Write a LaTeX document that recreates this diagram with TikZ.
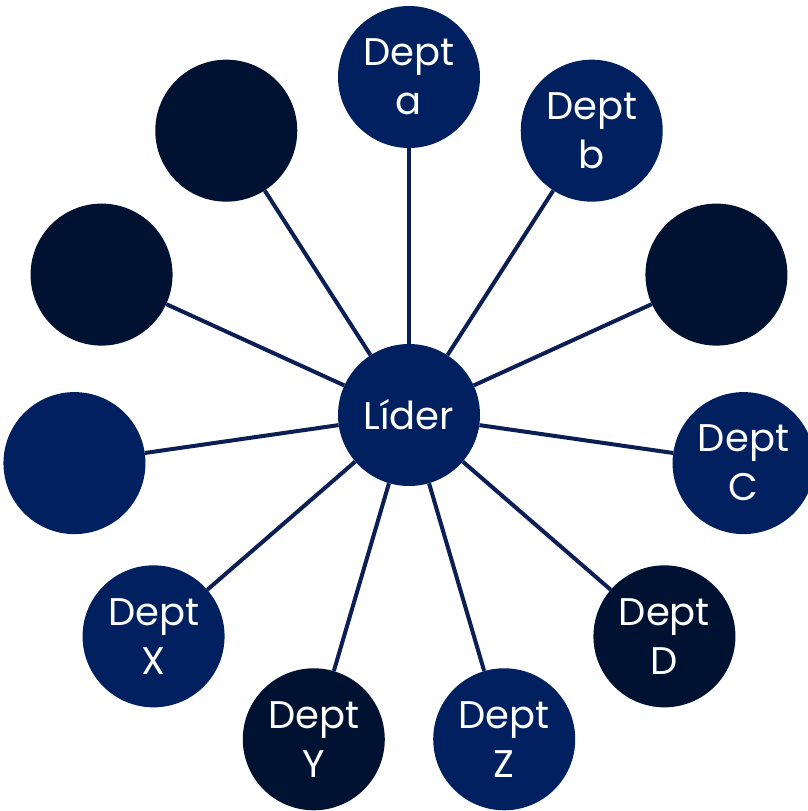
\documentclass[tikz,border=0pt]{standalone}
\usepackage{fontspec}
\setmainfont{Poppins}
\usetikzlibrary{trees}
\definecolor{deptblue}{HTML}{002060}
\definecolor{deptdark}{HTML}{001232}
\definecolor{spoke}{HTML}{0B1F55}

\begin{document}
\begin{tikzpicture}[%
  x=1pt,y=1pt,
  lider/.style={circle,fill=deptblue,text=white,minimum size=142pt,inner sep=0pt,
    font=\fontsize{38.5}{49}\selectfont,align=center},
  dept/.style={lider},
  deptdk/.style={lider,fill=deptdark},
  level 1/.style={level distance=338pt,sibling angle=32.7273},
  edge from parent/.style={draw=spoke,line width=4pt}]
    \useasboundingbox (0,0) rectangle (808,-811);
    % Leader
    \node[lider] (lider) at (409,-415) {Líder}
    [clockwise from=90]
    % Departments
    child {node[dept] (depta) {Dept\\a}}
    child {node[dept] (deptb) {Dept\\b}}
    child {node[deptdk] (emptyne) {}}
    child {node[dept] (deptc) {Dept\\C}}
    child {node[deptdk] (deptd) {Dept\\D}}
    child {node[dept] (deptz) {Dept\\Z}}
    child {node[deptdk] (depty) {Dept\\Y}}
    child {node[dept] (deptx) {Dept\\X}}
    child {node[dept] (emptyw) {}}
    child {node[deptdk] (emptynw) {}}
    child {node[deptdk] (emptynnw) {}};
\end{tikzpicture}
\end{document}
